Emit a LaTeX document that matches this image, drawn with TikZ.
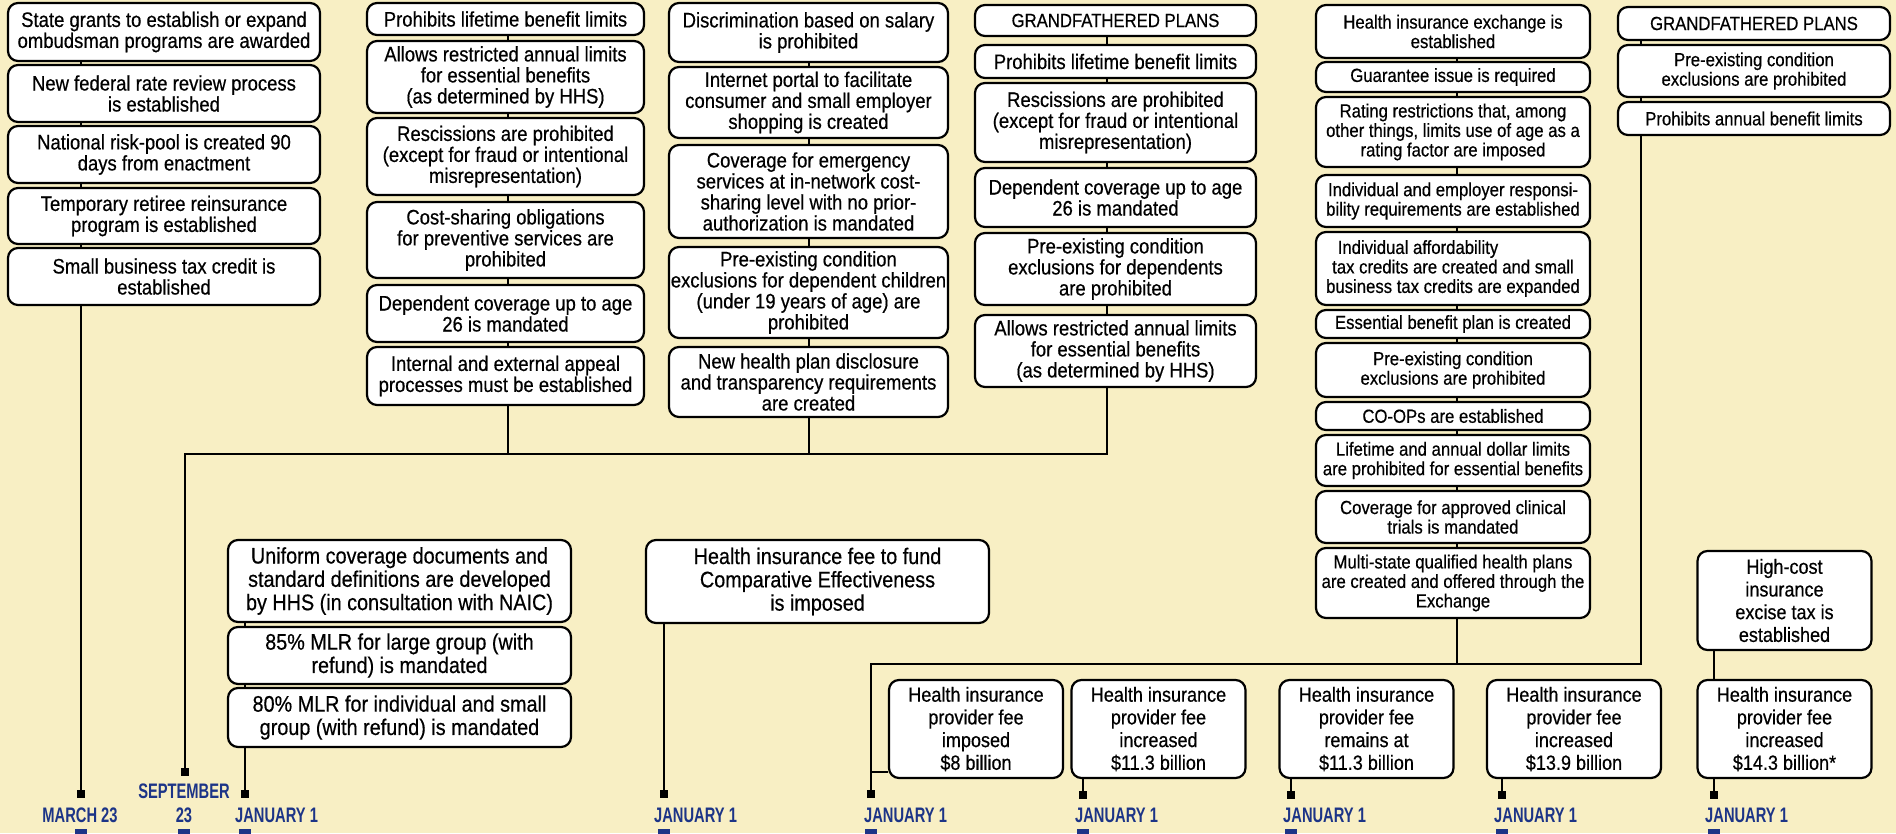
\documentclass[tikz,border=0pt]{standalone}
\usepackage{fontspec}
\setmainfont{Liberation Sans}[FakeStretch=0.88, FakeBold=0.5]
\newfontfamily\datefont{Liberation Sans}[FakeStretch=0.7]
\definecolor{paper}{RGB}{248,239,196}
\definecolor{navy}{RGB}{28,52,135}
\tikzset{
  rule/.style={draw, line width=2.2pt, rounded corners=10pt, fill=white, align=center, inner sep=0pt, font=\fontsize{21}{21}\selectfont},
  smalltext/.style={font=\fontsize{19}{19.5}\selectfont},
  bigtext/.style={font=\fontsize{22.5}{23.3}\selectfont},
  feetext/.style={font=\fontsize{20.5}{22.7}\selectfont},
  colA/.style={rule, minimum width=312pt},
  colB/.style={rule, minimum width=277pt},
  colC/.style={rule, minimum width=279pt},
  colD/.style={rule, minimum width=281pt},
  colE/.style={rule, smalltext, minimum width=274pt},
  colF/.style={rule, smalltext, minimum width=272pt},
  colG/.style={rule, bigtext, minimum width=343pt},
  feebox/.style={rule, feetext, minimum width=174pt, minimum height=98pt},
  wire/.style={line width=2.4pt},
  stopmark/.style={fill=black, inner sep=0pt, minimum size=8pt},
  datelabel/.style={text=navy, inner sep=0pt, align=center, font=\datefont\bfseries\fontsize{21}{24}\selectfont},
}

\begin{document}
\begin{tikzpicture}[x=1pt, y=-1pt]
  \fill[paper] (0,0) rectangle (1896,833);
  \useasboundingbox (0,0) rectangle (1896,833);

  % first column
  \node[colA, minimum height=58pt] (a1) at (164,32) {State grants to establish or expand\\ombudsman programs are awarded};
  \node[colA, minimum height=57pt] (a2) at (164,93.5) {New federal rate review process\\is established};
  \node[colA, minimum height=57pt] (a3) at (164,154.5) {National risk-pool is created 90\\days from enactment};
  \node[colA, minimum height=56pt] (a4) at (164,216) {Temporary retiree reinsurance\\program is established};
  \node[colA, minimum height=57pt] (a5) at (164,276.5) {Small business tax credit is\\established};

  \node[colB, minimum height=32pt] (b1) at (505.5,19) {Prohibits lifetime benefit limits};
  \node[colB, minimum height=72pt] (b2) at (505.5,77) {Allows restricted annual limits\\for essential benefits\\(as determined by HHS)};
  \node[colB, minimum height=77pt] (b3) at (505.5,156.5) {Rescissions are prohibited\\(except for fraud or intentional\\misrepresentation)};
  \node[colB, minimum height=76pt] (b4) at (505.5,240) {Cost-sharing obligations\\for preventive services are\\prohibited};
  \node[colB, minimum height=57pt] (b5) at (505.5,313.5) {Dependent coverage up to age\\26 is mandated};
  \node[colB, minimum height=58pt] (b6) at (505.5,376) {Internal and external appeal\\processes must be established};

  \node[colC, minimum height=59pt] (c1) at (808.5,32.5) {Discrimination based on salary\\is prohibited};
  \node[colC, minimum height=71pt] (c2) at (808.5,102.5) {Internet portal to facilitate\\consumer and small employer\\shopping is created};
  \node[colC, minimum height=93pt] (c3) at (808.5,191.5) {Coverage for emergency\\services at in-network cost-\\sharing level with no prior-\\authorization is mandated};
  \node[colC, minimum height=91pt] (c4) at (808.5,292.5) {Pre-existing condition\\exclusions for dependent children\\(under 19 years of age) are\\prohibited};
  \node[colC, minimum height=70pt] (c5) at (808.5,382) {New health plan disclosure\\and transparency requirements\\are created};

  \node[colD, smalltext, minimum height=31pt] (d1) at (1115.5,20.5) {GRANDFATHERED PLANS};
  \node[colD, minimum height=33pt] (d2) at (1115.5,61.5) {Prohibits lifetime benefit limits};
  \node[colD, minimum height=79pt] (d3) at (1115.5,122.5) {Rescissions are prohibited\\(except for fraud or intentional\\misrepresentation)};
  \node[colD, minimum height=59pt] (d4) at (1115.5,197.5) {Dependent coverage up to age\\26 is mandated};
  \node[colD, minimum height=72pt] (d5) at (1115.5,269) {Pre-existing condition\\exclusions for dependents\\are prohibited};
  \node[colD, minimum height=72pt] (d6) at (1115.5,351) {Allows restricted annual limits\\for essential benefits\\(as determined by HHS)};

  \node[colE, minimum height=53pt] (e1) at (1453,31.5) {Health insurance exchange is\\established};
  \node[colE, minimum height=30pt] (e2) at (1453,77) {Guarantee issue is required};
  \node[colE, minimum height=70pt] (e3) at (1453,132) {Rating restrictions that, among\\other things, limits use of age as a\\rating factor are imposed};
  \node[colE, minimum height=52pt] (e4) at (1453,201) {Individual and employer responsi-\\bility requirements are established};
  \node[colE, minimum height=73pt] (e5) at (1453,268.5) {Individual affordability\hspace*{70pt}\\tax credits are created and small\\business tax credits are expanded};
  \node[colE, minimum height=28pt] (e6) at (1453,324) {Essential benefit plan is created};
  \node[colE, minimum height=54pt] (e7) at (1453,370) {Pre-existing condition\\exclusions are prohibited};
  \node[colE, minimum height=28pt] (e8) at (1453,416) {CO-OPs are established};
  \node[colE, minimum height=51pt] (e9) at (1453,460.5) {Lifetime and annual dollar limits\\are prohibited for essential benefits};
  \node[colE, minimum height=52pt] (e10) at (1453,517) {Coverage for approved clinical\\trials is mandated};
  \node[colE, minimum height=70pt] (e11) at (1453,583) {Multi-state qualified health plans\\are created and offered through the\\Exchange};

  \node[colF, minimum height=33pt] (f1) at (1754,23.5) {GRANDFATHERED PLANS};
  \node[colF, minimum height=52pt] (f2) at (1754,71) {Pre-existing condition\\exclusions are prohibited};
  \node[colF, minimum height=33pt] (f3) at (1754,118.5) {Prohibits annual benefit limits};

  % lower boxes
  \node[colG, minimum height=82pt] (g1) at (399.5,581) {Uniform coverage documents and\\standard definitions are developed\\by HHS (in consultation with NAIC)};
  \node[colG, minimum height=57pt] (g2) at (399.5,655.5) {85\% MLR for large group (with\\refund) is mandated};
  \node[colG, minimum height=59pt] (g3) at (399.5,717.5) {80\% MLR for individual and small\\group (with refund) is mandated};
  \node[colG, minimum height=83pt] (h1) at (817.5,581.5) {Health insurance fee to fund\\Comparative Effectiveness\\is imposed};

  \node[feebox] (p1) at (976,729) {Health insurance\\provider fee\\imposed\\\$8 billion};
  \node[feebox] (p2) at (1158.5,729) {Health insurance\\provider fee\\increased\\\$11.3 billion};
  \node[feebox] (p3) at (1366.5,729) {Health insurance\\provider fee\\remains at\\\$11.3 billion};
  \node[feebox] (p4) at (1574,729) {Health insurance\\provider fee\\increased\\\$13.9 billion};
  \node[feebox] (p5) at (1784.5,729) {Health insurance\\provider fee\\increased\\\$14.3 billion*};
  \node[feebox, minimum height=99pt] (hc) at (1784.5,600.5) {High-cost\\insurance\\excise tax is\\established};

  % timeline stops
  \node[stopmark] (t1) at (81,794) {};
  \node[stopmark] (t2) at (185,772) {};
  \node[stopmark] (t3) at (245,794) {};
  \node[stopmark] (t4) at (664,794) {};
  \node[stopmark] (t5) at (871,794) {};
  \node[stopmark] (t6) at (1083,795) {};
  \node[stopmark] (t7) at (1291,795) {};
  \node[stopmark] (t8) at (1502,795) {};
  \node[stopmark] (t9) at (1714,795) {};

  \coordinate (bx) at (508,454);
  \coordinate (cx) at (809,454);
  \coordinate (k1) at (185,454);
  \coordinate (k2) at (1107,454);
  \coordinate (ex) at (1457,664);
  \coordinate (k3) at (871,664);
  \coordinate (k4) at (1641,664);
  \coordinate (k5) at (871,772);

  % stacked boxes
  \draw[wire] (a1.south -| t1) -- (a2.north -| t1);
  \draw[wire] (a2.south -| t1) -- (a3.north -| t1);
  \draw[wire] (a3.south -| t1) -- (a4.north -| t1);
  \draw[wire] (a4.south -| t1) -- (a5.north -| t1);
  \draw[wire] (b1.south -| bx) -- (b2.north -| bx);
  \draw[wire] (b2.south -| bx) -- (b3.north -| bx);
  \draw[wire] (b3.south -| bx) -- (b4.north -| bx);
  \draw[wire] (b4.south -| bx) -- (b5.north -| bx);
  \draw[wire] (b5.south -| bx) -- (b6.north -| bx);
  \draw[wire] (c1.south -| cx) -- (c2.north -| cx);
  \draw[wire] (c2.south -| cx) -- (c3.north -| cx);
  \draw[wire] (c3.south -| cx) -- (c4.north -| cx);
  \draw[wire] (c4.south -| cx) -- (c5.north -| cx);
  \draw[wire] (d1.south -| k2) -- (d2.north -| k2);
  \draw[wire] (d2.south -| k2) -- (d3.north -| k2);
  \draw[wire] (d3.south -| k2) -- (d4.north -| k2);
  \draw[wire] (d4.south -| k2) -- (d5.north -| k2);
  \draw[wire] (d5.south -| k2) -- (d6.north -| k2);
  \draw[wire] (e1.south -| ex) -- (e2.north -| ex);
  \draw[wire] (e2.south -| ex) -- (e3.north -| ex);
  \draw[wire] (e3.south -| ex) -- (e4.north -| ex);
  \draw[wire] (e4.south -| ex) -- (e5.north -| ex);
  \draw[wire] (e5.south -| ex) -- (e6.north -| ex);
  \draw[wire] (e6.south -| ex) -- (e7.north -| ex);
  \draw[wire] (e7.south -| ex) -- (e8.north -| ex);
  \draw[wire] (e8.south -| ex) -- (e9.north -| ex);
  \draw[wire] (e9.south -| ex) -- (e10.north -| ex);
  \draw[wire] (e10.south -| ex) -- (e11.north -| ex);
  \draw[wire] (f1.south -| k4) -- (f2.north -| k4);
  \draw[wire] (f2.south -| k4) -- (f3.north -| k4);
  \draw[wire] (g1.south -| t3) -- (g2.north -| t3);
  \draw[wire] (g2.south -| t3) -- (g3.north -| t3);

  % to the timeline
  \draw[wire] (a5.south -| t1) -- (t1);
  \draw[wire] (d6.south -| k2) -- (k2) -- (k1) -- (t2);
  \draw[wire] (b6.south -| bx) -- (bx);
  \draw[wire] (c5.south -| cx) -- (cx);
  \draw[wire] (g3.south -| t3) -- (t3);
  \draw[wire] (h1.south -| t4) -- (t4);
  \draw[wire] (f3.south -| k4) -- (k4) -- (k3) -- (t5);
  \draw[wire] (e11.south -| ex) -- (ex);
  \draw[wire] (k5) -- (p1.west |- k5);
  \draw[wire] (p2.south -| t6) -- (t6);
  \draw[wire] (p3.south -| t7) -- (t7);
  \draw[wire] (p4.south -| t8) -- (t8);
  \draw[wire] (hc.south -| t9) -- (p5.north -| t9);
  \draw[wire] (p5.south -| t9) -- (t9);

  % dates
  \node[datelabel] (l1) at (80,815) {MARCH 23};
  \node[datelabel] (l2) at (184,803) {SEPTEMBER\\23};
  \node[datelabel, anchor=west] (l3) at (235,815) {JANUARY 1};
  \node[datelabel, anchor=west] (l4) at (654,815) {JANUARY 1};
  \node[datelabel, anchor=west] (l5) at (864,815) {JANUARY 1};
  \node[datelabel, anchor=west] (l6) at (1075,815) {JANUARY 1};
  \node[datelabel, anchor=west] (l7) at (1283,815) {JANUARY 1};
  \node[datelabel, anchor=west] (l8) at (1494,815) {JANUARY 1};
  \node[datelabel, anchor=west] (l9) at (1705,815) {JANUARY 1};

  \fill[navy] (75,829) rectangle (87,836);
  \fill[navy] (178,829) rectangle (190,836);
  \fill[navy] (239,829) rectangle (251,836);
  \fill[navy] (658,829) rectangle (670,836);
  \fill[navy] (865,829) rectangle (877,836);
  \fill[navy] (1077,829) rectangle (1089,836);
  \fill[navy] (1285,829) rectangle (1297,836);
  \fill[navy] (1496,829) rectangle (1508,836);
  \fill[navy] (1708,829) rectangle (1720,836);
\end{tikzpicture}
\end{document}
